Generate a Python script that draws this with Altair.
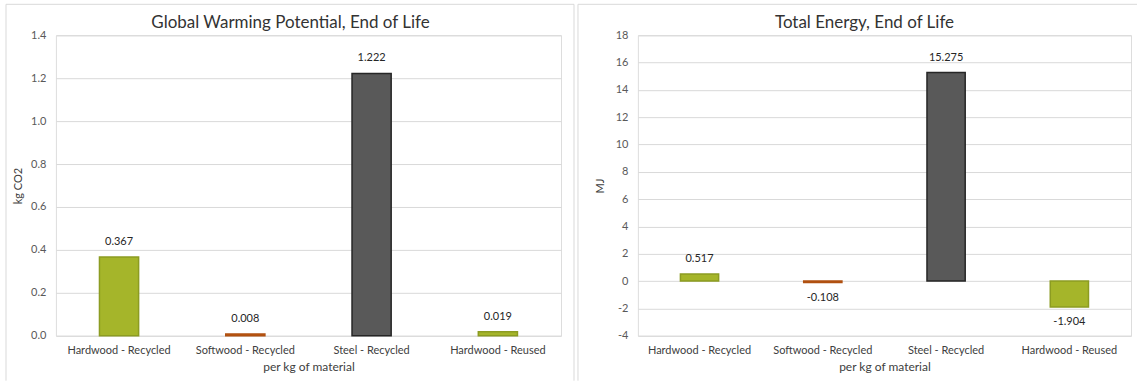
import altair as alt
import pandas as pd

categories = ["Hardwood - Recycled", "Softwood - Recycled", "Steel - Recycled", "Hardwood - Reused"]
materials = ["Hardwood", "Softwood", "Steel", "Hardwood"]
gwp_values = [0.367, 0.008, 1.222, 0.019]
energy_values = [0.517, -0.108, 15.275, -1.904]

gwp_ticks = [0.0, 0.2, 0.4, 0.6, 0.8, 1.0, 1.2, 1.4]
energy_ticks = [-4, -2, 0, 2, 4, 6, 8, 10, 12, 14, 16, 18]

FONT = "Lato"
mat_domain = ["Hardwood", "Softwood", "Steel"]
fill_range = ["#a5b52a", "#c55a11", "#595959"]
stroke_range = ["#8c9c22", "#b05010", "#262626"]

gwp_df = pd.DataFrame({"category": categories, "material": materials, "value": gwp_values})
en_df = pd.DataFrame({"category": categories, "material": materials, "value": energy_values})


def panel(df, title, ytitle, ticks, fmt, width, height, title_x, border_left, border_right, right_edge):
    xenc = alt.X("category:N", sort=categories, title="per kg of material",
                 scale=alt.Scale(paddingInner=0.69, paddingOuter=0.345),
                 axis=alt.Axis(labelAngle=0, ticks=False, domain=False, labelPadding=9,
                               labelFontSize=11, labelColor="#404040", titleFontSize=12,
                               titleFontWeight="normal", titleColor="#404040", titlePadding=6,
                               labelFont=FONT, titleFont=FONT))
    yscale = alt.Scale(domain=[ticks[0], ticks[-1]], nice=False, zero=False)
    yenc = alt.Y("value:Q", title=ytitle, scale=yscale,
                 axis=alt.Axis(values=ticks, format=fmt, ticks=False, domain=False,
                               grid=True, gridColor="#d9d9d9", labelPadding=10,
                               labelOverlap=False,
                               labelFontSize=11, labelColor="#595959", titleFontSize=11,
                               titleFontWeight="normal", titleColor="#404040",
                               minExtent=26, maxExtent=26, titlePadding=6,
                               labelFont=FONT, titleFont=FONT))
    base = alt.Chart(df)
    bars = base.mark_bar(strokeWidth=1.5).encode(
        x=xenc,
        y=yenc,
        y2=alt.datum(0),
        color=alt.Color("material:N", scale=alt.Scale(domain=mat_domain, range=fill_range), legend=None),
        stroke=alt.Stroke("material:N", scale=alt.Scale(domain=mat_domain, range=stroke_range), legend=None),
    )
    pos = base.transform_filter("datum.value >= 0").mark_text(
        dy=-15, fontSize=11, font=FONT, color="#262626"
    ).encode(x=xenc, y=yenc, text=alt.Text("value:Q", format=".3f"))
    neg = base.transform_filter("datum.value < 0").mark_text(
        dy=15, fontSize=11, font=FONT, color="#262626"
    ).encode(x=xenc, y=yenc, text=alt.Text("value:Q", format=".3f"))

    one = alt.Data(values=[{"k": 1}])
    layers = [
        alt.Chart(one).mark_rule(color="#d9d9d9", strokeWidth=1).encode(
            x=alt.value(border_left), x2=alt.value(border_right), y=alt.value(-31)),
        alt.Chart(one).mark_rule(color="#d9d9d9", strokeWidth=1).encode(
            x=alt.value(border_left), y=alt.value(-31), y2=alt.value(346)),
    ]
    if right_edge:
        layers.append(alt.Chart(one).mark_rule(color="#d9d9d9", strokeWidth=1).encode(
            x=alt.value(border_right), y=alt.value(-31), y2=alt.value(346)))
    layers.append(alt.Chart(one).mark_text(
        text=title, fontSize=17, font=FONT, color="#333333", baseline="middle", align="center"
    ).encode(x=alt.value(title_x), y=alt.value(-12)))
    layers += [bars, pos, neg]
    return alt.layer(*layers).properties(width=width, height=height)


left = panel(gwp_df, "Global Warming Potential, End of Life", "kg CO2", gwp_ticks, ".1f",
             506, 301, 235, -50, 519, True)
right = panel(en_df, "Total Energy, End of Life", "MJ", energy_ticks, "d",
              494, 301, 227, -60, 500, False)

chart = alt.hconcat(left, right, spacing=77, bounds="flush").properties(
    padding={"left": 5, "top": 3, "right": 0, "bottom": 0}
).configure_view(stroke=None).configure(
    locale={"number": {"decimal": ".", "thousands": ",", "grouping": [3],
                       "currency": ["$", ""], "minus": "-"}}
)

chart.save("out.html", embed_options={"renderer": "svg", "actions": False})
